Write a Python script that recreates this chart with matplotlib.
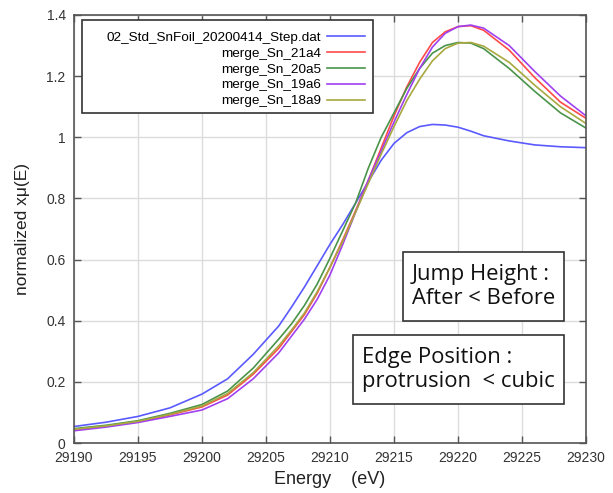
import matplotlib
matplotlib.use("Agg")
import matplotlib.pyplot as plt
from matplotlib.ticker import FuncFormatter, MultipleLocator
from matplotlib.patches import Rectangle

energy = [29190, 29192.5, 29195, 29197.5, 29200, 29202, 29204, 29206, 29207, 29208,
          29209, 29210, 29211, 29212, 29213, 29214, 29215, 29216, 29217, 29218,
          29219, 29220, 29221, 29222, 29224, 29226, 29228, 29230]

std_step = [0.054, 0.068, 0.087, 0.115, 0.160, 0.210, 0.290, 0.383, 0.445, 0.510,
            0.580, 0.650, 0.715, 0.785, 0.855, 0.925, 0.980, 1.015, 1.035, 1.042,
            1.040, 1.033, 1.020, 1.005, 0.988, 0.975, 0.969, 0.966]
sn_21a4 = [0.043, 0.055, 0.070, 0.092, 0.118, 0.157, 0.225, 0.310, 0.365, 0.420,
           0.490, 0.575, 0.665, 0.760, 0.860, 0.965, 1.070, 1.165, 1.245, 1.310,
           1.345, 1.362, 1.365, 1.350, 1.285, 1.195, 1.115, 1.062]
sn_20a5 = [0.047, 0.058, 0.073, 0.097, 0.126, 0.170, 0.245, 0.340, 0.390, 0.450,
           0.520, 0.605, 0.695, 0.785, 0.900, 1.000, 1.080, 1.160, 1.225, 1.275,
           1.300, 1.310, 1.308, 1.290, 1.225, 1.150, 1.080, 1.030]
sn_19a6 = [0.040, 0.052, 0.067, 0.087, 0.108, 0.145, 0.210, 0.295, 0.350, 0.405,
           0.470, 0.550, 0.650, 0.755, 0.860, 0.955, 1.050, 1.140, 1.225, 1.295,
           1.340, 1.362, 1.367, 1.357, 1.300, 1.215, 1.135, 1.070]
sn_18a9 = [0.045, 0.056, 0.071, 0.094, 0.121, 0.162, 0.230, 0.318, 0.370, 0.425,
           0.495, 0.575, 0.660, 0.755, 0.850, 0.945, 1.035, 1.120, 1.190, 1.250,
           1.290, 1.308, 1.310, 1.298, 1.245, 1.170, 1.100, 1.045]

labels = ["02_Std_SnFoil_20200414_Step.dat", "merge_Sn_21a4", "merge_Sn_20a5",
          "merge_Sn_19a6", "merge_Sn_18a9"]
series = [std_step, sn_21a4, sn_20a5, sn_19a6, sn_18a9]
colors = ["#5a5aff", "#ff4a4a", "#4a944a", "#a040f0", "#a8a840"]

plt.rcParams['font.family'] = ['Liberation Sans', 'DejaVu Sans']

fig = plt.figure(figsize=(6.13, 4.93), dpi=100)
ax = fig.add_axes([0.1207, 0.1014, 0.8353, 0.8682])

for y, lab, c in zip(series, labels, colors):
    ax.plot(energy, y, color=c, lw=1.2, label=lab)

ax.set_xlim(29190, 29230)
ax.set_ylim(0, 1.4)
ax.xaxis.set_major_locator(MultipleLocator(5))
ax.yaxis.set_major_locator(MultipleLocator(0.2))
ax.yaxis.set_major_formatter(FuncFormatter(lambda v, p: f"{v:g}"))
ax.grid(True, color="#dcdcdc", lw=1.0)
ax.set_axisbelow(True)
ax.tick_params(direction="in", top=True, right=True, length=5, width=1,
               color="#555555", labelsize=10, labelcolor="#333333", pad=6)
for s in ax.spines.values():
    s.set_color("#555555")
    s.set_linewidth(1.2)

ax.set_xlabel("Energy    (eV)", fontsize=13, color="#222222", labelpad=4)
ax.set_ylabel("normalized xμ(E)", fontsize=12.5, color="#222222", labelpad=12)

# legend frame drawn as a rectangle, entries right-aligned inside
ax.add_patch(Rectangle((0.0156, 0.771), 0.5684, 0.217, transform=ax.transAxes,
                       fc="white", ec="#333333", lw=1.2, zorder=4))
leg = ax.legend(loc="upper right", bbox_to_anchor=(0.568, 0.962), markerfirst=False,
                fontsize=9.7, frameon=False, handlelength=2.8,
                borderpad=0, labelspacing=0.26, borderaxespad=0, handletextpad=0.45)
leg.set_zorder(5)
for t in leg.get_texts():
    t.set_ha("right")
leg._legend_box.align = "right"

box_kw = dict(transform=ax.transAxes, fc="white", ec="#333333", lw=1.2, zorder=4)
ax.add_patch(Rectangle((0.6426, 0.285), 0.3144, 0.1613, **box_kw))
ax.add_patch(Rectangle((0.5449, 0.0911), 0.4121, 0.1612, **box_kw))
ax.text(0.66, 0.366, "Jump Height :\nAfter < Before", transform=ax.transAxes,
        fontsize=15.8, family=["Open Sans", "DejaVu Sans"], color="#111111",
        ha="left", va="center", linespacing=1.2, zorder=5)
ax.text(0.5625, 0.172, "Edge Position :\nprotrusion  < cubic", transform=ax.transAxes,
        fontsize=15.8, family=["Open Sans", "DejaVu Sans"], color="#111111",
        ha="left", va="center", linespacing=1.2, zorder=5)

fig.savefig("out.png", dpi=100)
